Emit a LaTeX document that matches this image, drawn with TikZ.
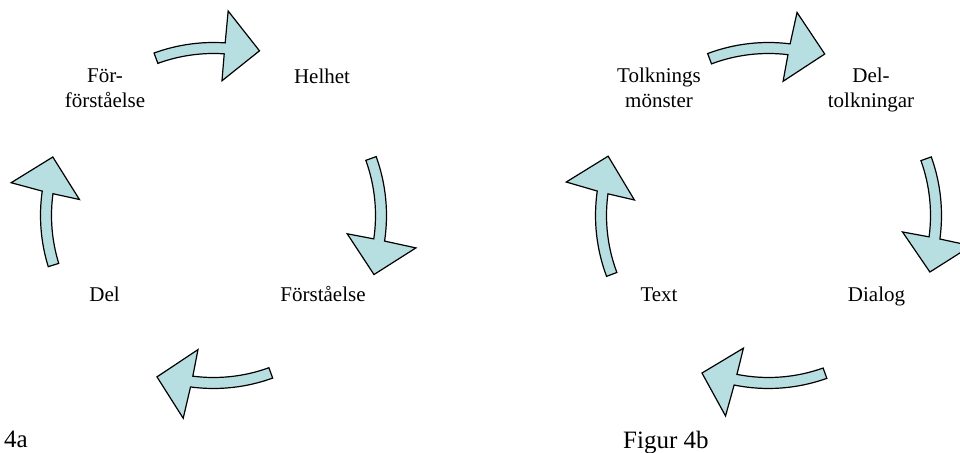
\documentclass[tikz,border=0pt]{standalone}
\usepackage{fontspec}
\setmainfont{Liberation Serif}
\definecolor{arrowfill}{RGB}{183,222,225}
\tikzset{
  arrowbody/.style={draw=black, line width=1.2pt, fill=arrowfill, line join=miter},
  cyclelabel/.style={font=\fontsize{21}{25}\selectfont, align=center, inner sep=0pt, anchor=base},
  figlabel/.style={font=\fontsize{25}{30}\selectfont, inner sep=0pt, anchor=base west},
}
% Curved block arrow running clockwise along a circle around #1:
% #2 tail angle, #3 inner head corner angle, #4 outer head corner angle, #5 tip angle
\newcommand\bentarrow[5]{%
  \pgfmathsetmacro\shafto{#3+(#4-#3)*0.543}%
  \pgfmathsetmacro\shafti{#3+(#4-#3)*0.386}%
  \draw[arrowbody, shift={(#1)}]
    (#2:173pt) arc[start angle=#2, end angle=\shafto, radius=173pt]
    -- (#4:205pt) -- (#5:171pt) -- (#3:135pt) -- (\shafti:162pt)
    arc[start angle=\shafti, end angle=#2, radius=162pt] -- cycle;
}
\begin{document}
\begin{tikzpicture}[x=1pt, y=1pt]
\useasboundingbox (0,0) rectangle (960,452);

% centres of the two cycles
\coordinate (ca) at (213.5,236.5);
\coordinate (cb) at (768.5,236.5);

% cycle 4a
\bentarrow{ca}{110.1}{86.4}{85.9}{74.4}
\bentarrow{ca}{19.9}{-7.8}{-9.1}{-20.2}
\bentarrow{ca}{-70.0}{-96.6}{-98.5}{-109.3}
\bentarrow{ca}{197.2}{173.2}{170.8}{160.0}

% two-line labels are placed by the baseline of their last line
\node[cyclelabel] (forf)   at (105,344.7)   {För-\\förståelse};
\node[cyclelabel] (helhet) at (322,368.7)   {Helhet};
\node[cyclelabel] (forst)  at (323,150.3)   {Förståelse};
\node[cyclelabel] (del)    at (104.5,150)   {Del};

% cycle 4b
\bentarrow{cb}{110.6}{83.8}{82.0}{70.8}
\bentarrow{cb}{19.8}{-7.0}{-8.5}{-19.3}
\bentarrow{cb}{-70.3}{-100.7}{-102.1}{-112.9}
\bentarrow{cb}{200.6}{173.4}{170.6}{159.7}

\node[cyclelabel] (tolk)    at (659,344.3)  {Tolknings\\mönster};
\node[cyclelabel] (deltolk) at (871,344.3)  {Del-\\tolkningar};
\node[cyclelabel] (text)    at (659,150)    {Text};
\node[cyclelabel] (dialog)  at (876.5,150)  {Dialog};

% figure captions
\node[figlabel] (fig4a) at (4,5)   {4a};
\node[figlabel] (fig4b) at (623,4) {Figur 4b};
\end{tikzpicture}
\end{document}
